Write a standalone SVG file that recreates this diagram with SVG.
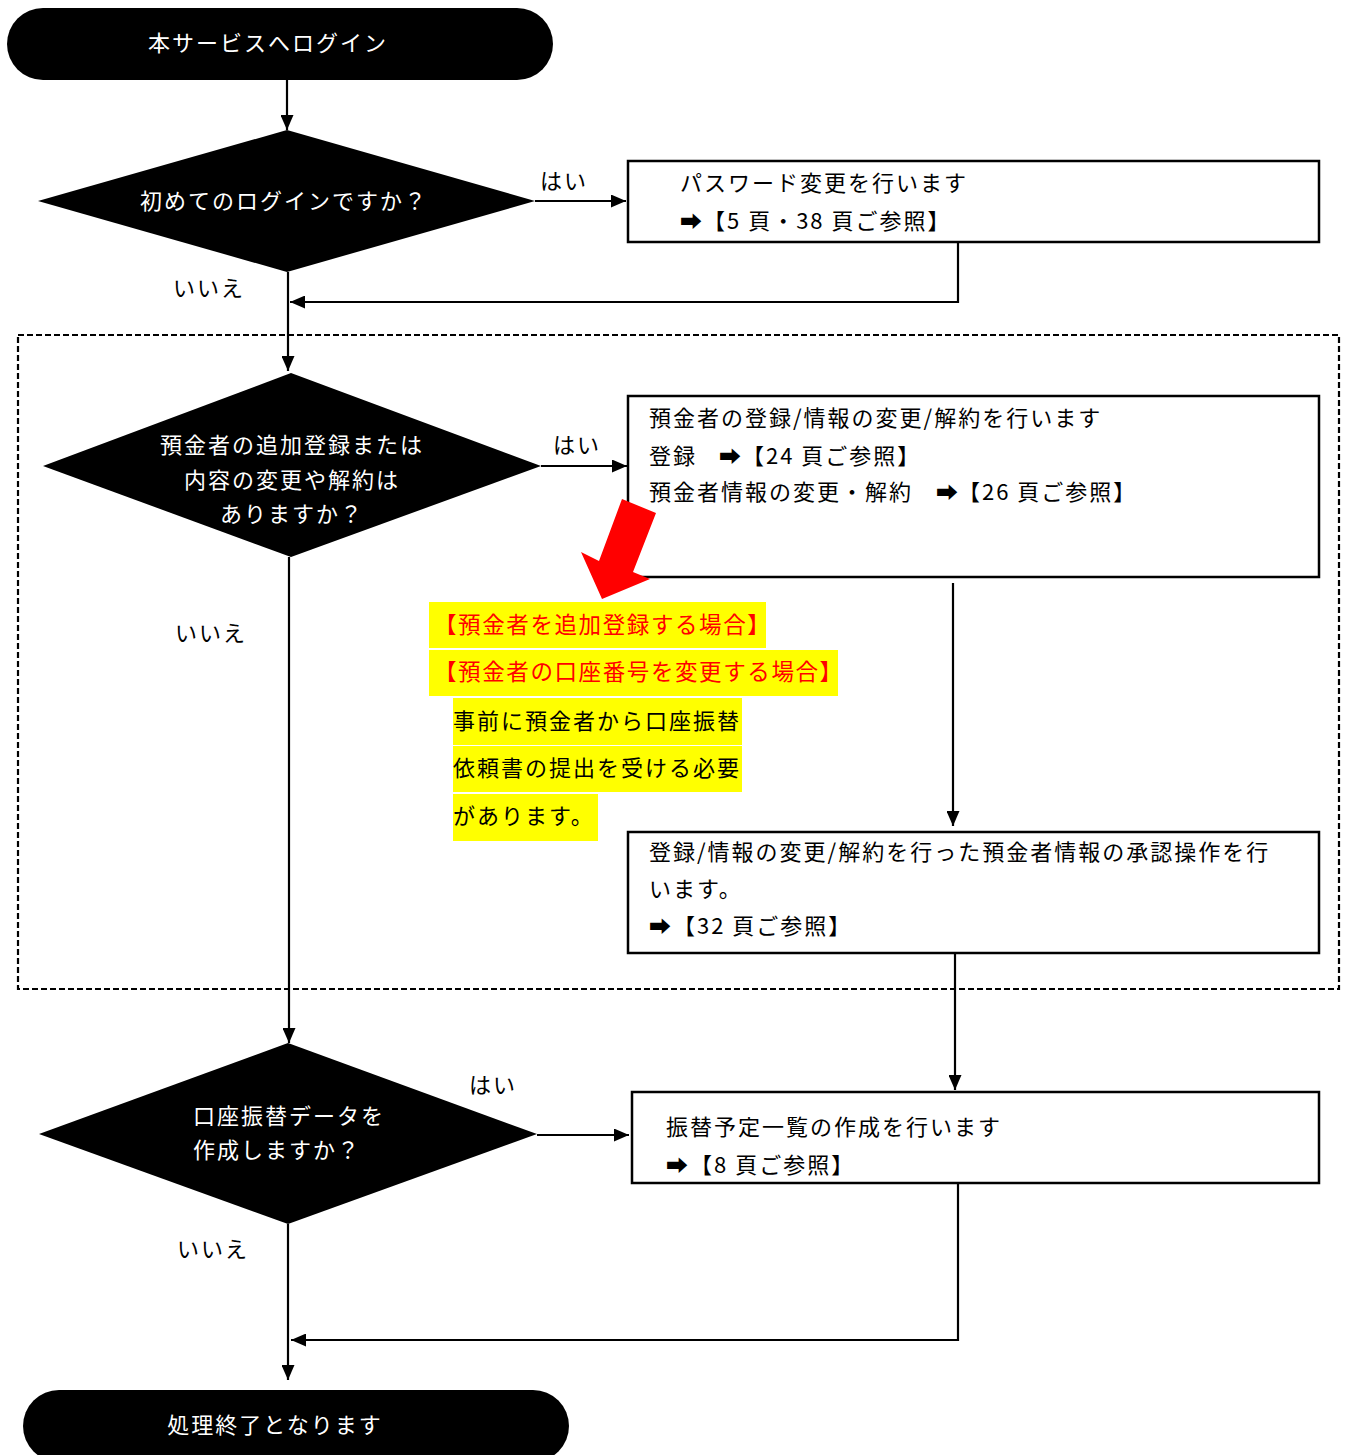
<svg xmlns="http://www.w3.org/2000/svg" width="1349" height="1455" viewBox="0 0 1349 1455">
<style>
text{font-family:"Noto Sans CJK JP","DejaVu Sans",sans-serif;font-size:22px;letter-spacing:2px;fill:#000}
.w{fill:#fff}
.term,.dia{fill:#000}
.box{fill:#fff;stroke:#000;stroke-width:2.5}
.con{fill:none;stroke:#000;stroke-width:2.2}
.grp{fill:none;stroke:#000;stroke-width:2.2;stroke-dasharray:6 3}
.hl{fill:#ffff00}
.red{fill:#ff0000;font-size:22.5px;letter-spacing:1.6px}
</style>
<defs>
<marker id="ah" markerUnits="userSpaceOnUse" markerWidth="15" markerHeight="13" refX="15" refY="6.5" orient="auto">
<path d="M0,0 L15,6.5 L0,13 z" fill="#000"/>
</marker>
</defs>
<rect class="grp" x="18" y="335" width="1321" height="654"/>
<g id="connectors">
<path class="con" d="M287,80 V130" marker-end="url(#ah)"/>
<path class="con" d="M535,201 H626" marker-end="url(#ah)"/>
<path class="con" d="M958,242 V302 H290" marker-end="url(#ah)"/>
<path class="con" d="M288,272 V371" marker-end="url(#ah)"/>
<path class="con" d="M541,466 H627" marker-end="url(#ah)"/>
<path class="con" d="M953,583 V826" marker-end="url(#ah)"/>
<path class="con" d="M289,557 V1043" marker-end="url(#ah)"/>
<path class="con" d="M955,953 V1090" marker-end="url(#ah)"/>
<path class="con" d="M537,1135 H629" marker-end="url(#ah)"/>
<path class="con" d="M958,1183 V1340 H291" marker-end="url(#ah)"/>
<path class="con" d="M288,1224 V1380" marker-end="url(#ah)"/>
</g>
<g id="labels">
<text x="540" y="189">はい</text>
<text x="173" y="296">いいえ</text>
<text x="553" y="453">はい</text>
<text x="175" y="641">いいえ</text>
<text x="469" y="1093">はい</text>
<text x="177" y="1257">いいえ</text>
</g>
<g id="start">
<rect class="term" x="7" y="8" width="546" height="72" rx="36"/>
<text class="w" x="268" y="51" text-anchor="middle">本サービスへログイン</text>
</g>
<g id="q1">
<polygon class="dia" points="287,130 535,201 287,272 38,201"/>
<text class="w" x="284" y="209" text-anchor="middle">初めてのログインですか？</text>
</g>
<g id="b1">
<rect class="box" x="628" y="161" width="691" height="81"/>
<text x="680" y="191">パスワード変更を行います</text>
<text x="680" y="229">➡<tspan x="703">【5 頁・38 頁ご参照】</tspan></text>
</g>
<g id="q2">
<polygon class="dia" points="291,373 541,466 291,557 43,466"/>
<text class="w" x="292" y="453" text-anchor="middle">預金者の追加登録または</text>
<text class="w" x="292" y="488" text-anchor="middle">内容の変更や解約は</text>
<text class="w" x="292" y="522" text-anchor="middle">ありますか？</text>
</g>
<g id="b2">
<rect class="box" x="628" y="396" width="691" height="181"/>
<text x="649" y="426">預金者の登録/情報の変更/解約を行います</text>
<text x="649" y="464">登録<tspan x="719">➡</tspan><tspan x="742">【24 頁ご参照】</tspan></text>
<text x="649" y="500">預金者情報の変更・解約<tspan x="936">➡</tspan><tspan x="958">【26 頁ご参照】</tspan></text>
</g>
<g id="note">
<polygon points="622,499 656,513 633,572 650,579 602,599 581,552 599,561" fill="#ff0000"/>
<rect class="hl" x="429" y="602" width="337" height="46"/>
<rect class="hl" x="429" y="650" width="409" height="46"/>
<rect class="hl" x="453" y="698" width="289" height="47"/>
<rect class="hl" x="453" y="746" width="289" height="46"/>
<rect class="hl" x="453" y="794" width="145" height="47"/>
<text class="red" x="434" y="633">【預金者を追加登録する場合】</text>
<text class="red" x="434" y="680">【預金者の口座番号を変更する場合】</text>
<text x="453" y="729">事前に預金者から口座振替</text>
<text x="453" y="776">依頼書の提出を受ける必要</text>
<text x="453" y="824">があります。</text>
</g>
<g id="b3">
<rect class="box" x="628" y="832" width="691" height="121"/>
<text x="649" y="860">登録/情報の変更/解約を行った預金者情報の承認操作を行</text>
<text x="649" y="897">います。</text>
<text x="649" y="934">➡<tspan x="673">【32 頁ご参照】</tspan></text>
</g>
<g id="q3">
<polygon class="dia" points="288,1043 537,1134 288,1224 39,1134"/>
<text class="w" x="193" y="1124">口座振替データを</text>
<text class="w" x="193" y="1158">作成しますか？</text>
</g>
<g id="b4">
<rect class="box" x="632" y="1092" width="687" height="91"/>
<text x="666" y="1135">振替予定一覧の作成を行います</text>
<text x="666" y="1173">➡<tspan x="690">【8 頁ご参照】</tspan></text>
</g>
<g id="end">
<rect class="term" x="23" y="1390" width="546" height="72" rx="36"/>
<text class="w" x="275" y="1433" text-anchor="middle">処理終了となります</text>
</g>
</svg>
